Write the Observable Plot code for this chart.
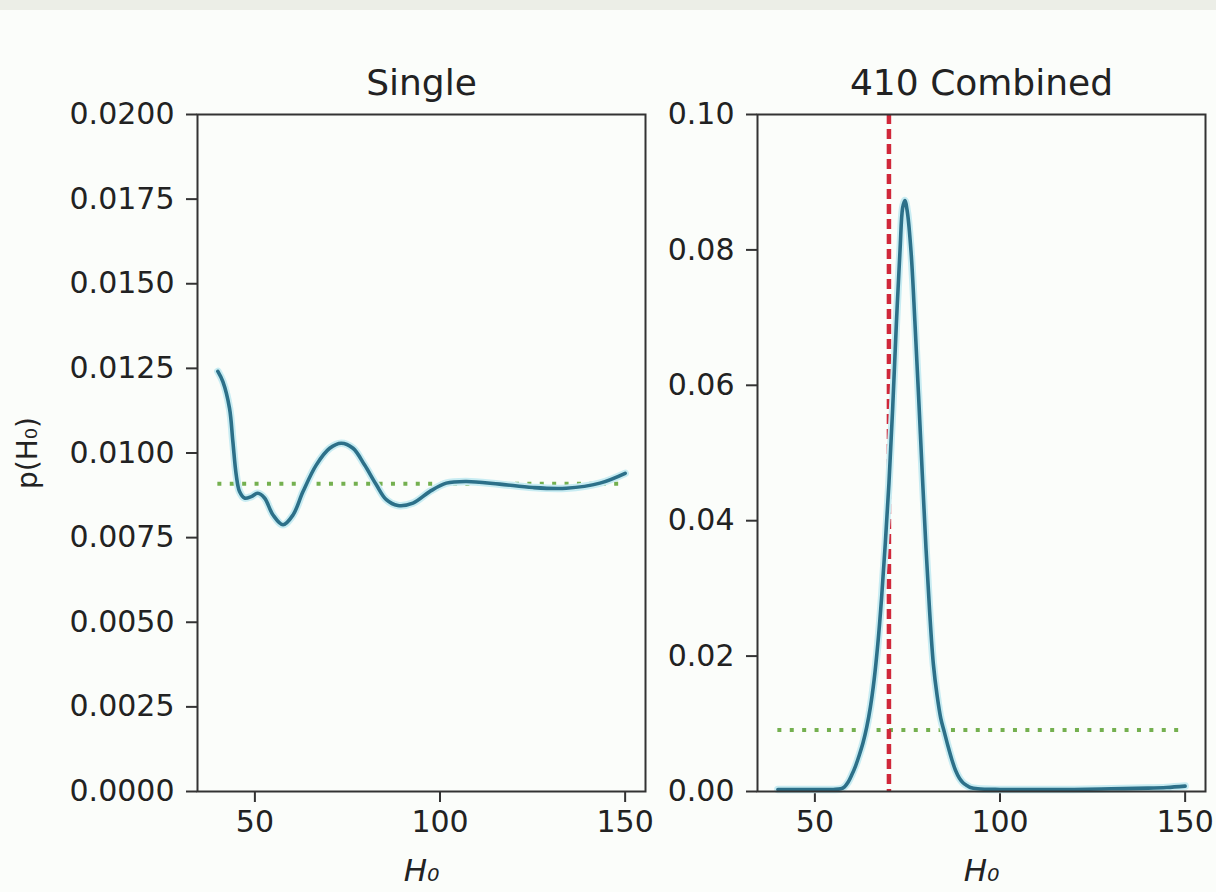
<!DOCTYPE html>
<html>
<head>
<meta charset="utf-8">
<script src="https://cdn.jsdelivr.net/npm/d3@7"></script>
<script src="https://cdn.jsdelivr.net/npm/@observablehq/plot@0.6"></script>
<style>
  html, body { margin: 0; padding: 0; background: #fbfdfa; }
  #wrap { position: relative; width: 1216px; height: 892px; overflow: hidden; background: #fbfdfa; }
  #band { position: absolute; left: 0; top: 0; width: 1216px; height: 10px; background: #eceee7; }
  .panel { position: absolute; top: 0; }
</style>
</head>
<body>
<div id="wrap"><div id="band"></div></div>
<script>
// ---- data ----
const xTicks = [50, 100, 150];
const yTicksSingle = [0, 0.0025, 0.005, 0.0075, 0.01, 0.0125, 0.015, 0.0175, 0.02];
const yTicksCombined = [0, 0.02, 0.04, 0.06, 0.08, 0.10];

const titles = ["Single", "410 Combined"];
const priorValue = 0.00909;     // flat prior level (dotted green)
const priorRange = [40, 150];
const trueH0 = 70;              // red dashed marker

const h0Single = [40, 41.35, 43.15, 44.05, 44.95, 45.86, 47.2, 49.0, 50.8, 52.6, 54.9, 57.6, 60.3, 63.0, 66.6, 70.2, 73.3, 76.5, 79.6, 82.8, 85.5, 88.6, 92.7, 97.2, 101.7, 107.1, 116.1, 125.1, 134.1, 143.2, 150];
const pSingle = [0.01241, 0.01211, 0.01132, 0.01034, 0.00936, 0.00886, 0.00867, 0.00871, 0.00881, 0.00867, 0.00817, 0.00788, 0.00817, 0.00886, 0.00965, 0.01014, 0.01029, 0.01014, 0.00965, 0.00906, 0.00862, 0.00845, 0.00852, 0.00886, 0.00911, 0.00916, 0.00908, 0.00898, 0.00896, 0.00911, 0.00940];

const h0Combined = [40, 45, 50, 55, 57, 58, 59, 60, 61, 62, 63, 64, 65, 66, 67, 68, 69, 70, 71, 72, 73, 73.7, 74.3, 75, 76, 77, 78, 79, 80, 81, 82, 83, 84, 85, 86, 87, 88, 89, 90, 91, 92, 94, 100, 110, 120, 130, 140, 145, 150];
const pCombined = [0.0003, 0.0003, 0.0003, 0.0003, 0.0004, 0.0007, 0.0014, 0.0025, 0.0038, 0.0054, 0.0072, 0.0095, 0.0125, 0.0165, 0.0218, 0.0285, 0.0365, 0.0455, 0.0565, 0.069, 0.080, 0.0862, 0.0873, 0.0855, 0.0795, 0.0695, 0.0585, 0.047, 0.036, 0.0265, 0.0188, 0.0142, 0.0108, 0.0087, 0.0066, 0.0047, 0.0031, 0.0020, 0.0013, 0.0009, 0.0006, 0.0004, 0.0003, 0.0003, 0.0003, 0.0004, 0.0005, 0.0006, 0.0008];

// ---- styles ----
const lineColor = "#2c7089";
const haloColor = "#c8ecf2";
const green = "#74b04f";
const red = "#d0283a";
const ink = "#222";
const font = "DejaVu Sans";

const single = h0Single.map((x, i) => ({x, y: pSingle[i]}));
const combined = h0Combined.map((x, i) => ({x, y: pCombined[i]}));

function panel({title, data, yDomain, yTicks, yFormat, width, marginLeft, marginRight, ylabel, marker}) {
  const marks = [
    Plot.axisX({ticks: xTicks, tickSize: 11, tickPadding: 8, label: null, strokeWidth: 2, stroke: "#333", fill: ink, fontSize: 30}),
    Plot.axisY({ticks: yTicks, tickSize: 11, tickPadding: 12, label: null, tickFormat: d3.format(yFormat), strokeWidth: 2, stroke: "#333", fill: ink, fontSize: 30}),
    Plot.ruleY([priorValue], {x1: priorRange[0], x2: priorRange[1], stroke: green, strokeWidth: 4, strokeDasharray: "4,8.4"}),
  ];
  if (marker) marks.push(Plot.ruleX([trueH0], {stroke: red, strokeWidth: 4.5, strokeDasharray: "10,5"}));
  marks.push(
    Plot.line(data, {x: "x", y: "y", stroke: haloColor, strokeWidth: 7.5, curve: "catmull-rom"}),
    Plot.line(data, {x: "x", y: "y", stroke: lineColor, strokeWidth: 3.6, curve: "catmull-rom"}),
    Plot.frame({stroke: "#333", strokeWidth: 2}),
    Plot.text([title], {frameAnchor: "top", lineAnchor: "middle", dy: -31, fontSize: 36, fill: ink}),
    Plot.text(["H₀"], {frameAnchor: "bottom", lineAnchor: "middle", dy: 80, fontSize: 31, fontStyle: "italic", fill: ink})
  );
  if (ylabel) marks.push(Plot.text([ylabel], {frameAnchor: "left", lineAnchor: "middle", textAnchor: "middle", rotate: -90, dx: -169, fontSize: 28, fill: ink}));
  return Plot.plot({
    width, height: 892,
    marginLeft, marginRight, marginTop: 114, marginBottom: 101,
    style: {fontFamily: font, fontSize: "30px", color: ink, background: "transparent", overflow: "visible"},
    x: {domain: [34.5, 155.5]},
    y: {domain: yDomain},
    marks
  });
}

const left = panel({title: titles[0], data: single, yDomain: [0, 0.02], yTicks: yTicksSingle, yFormat: ".4f", width: 660, marginLeft: 197, marginRight: 15, ylabel: "p(H₀)", marker: false});
const right = panel({title: titles[1], data: combined, yDomain: [0, 0.10], yTicks: yTicksCombined, yFormat: ".2f", width: 556, marginLeft: 97, marginRight: 11, ylabel: null, marker: true});

left.classList.add("panel"); left.style.left = "0px";
right.classList.add("panel"); right.style.left = "660px";
document.getElementById("wrap").append(left, right);
</script>
</body>
</html>
